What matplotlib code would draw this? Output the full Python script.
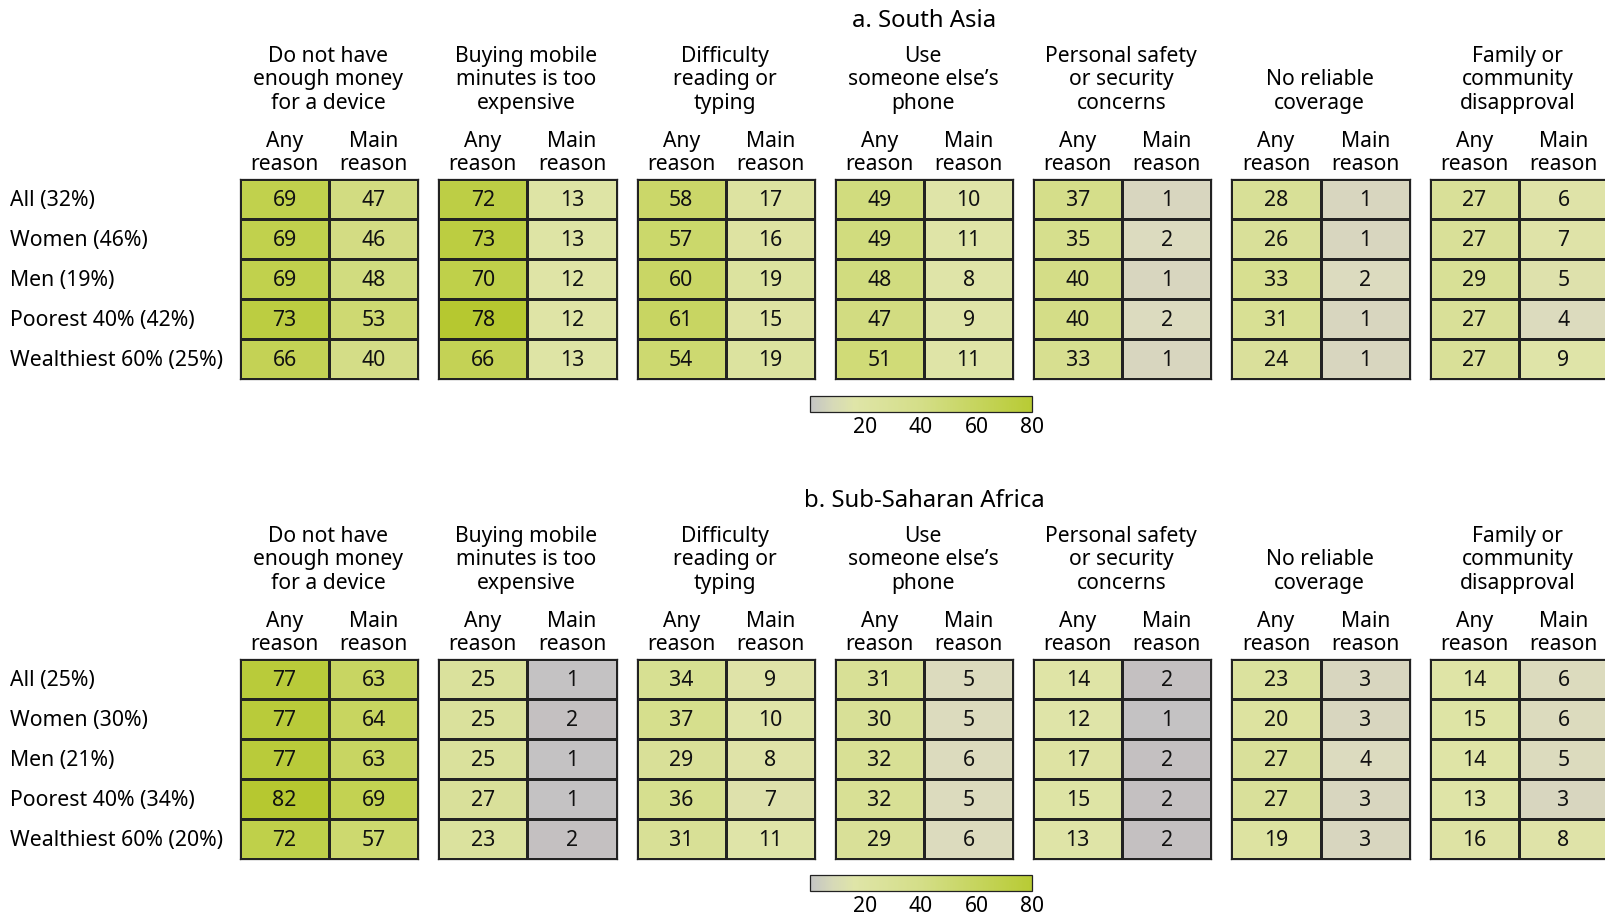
import numpy as np
import matplotlib
matplotlib.use("Agg")
import matplotlib.pyplot as plt
from matplotlib.colors import LinearSegmentedColormap, Normalize
from matplotlib.cm import ScalarMappable

plt.rcParams['font.family'] = ['Noto Sans', 'DejaVu Sans']

groups = ["Do not have\nenough money\nfor a device",
          "Buying mobile\nminutes is too\nexpensive",
          "Difficulty\nreading or\ntyping",
          "Use\nsomeone else\u2019s\nphone",
          "Personal safety\nor security\nconcerns",
          "No reliable\ncoverage",
          "Family or\ncommunity\ndisapproval"]
sub_headers = ["Any\nreason", "Main\nreason"]

rows_sa = ["All (32%)", "Women (46%)", "Men (19%)", "Poorest 40% (42%)", "Wealthiest 60% (25%)"]
rows_ssa = ["All (25%)", "Women (30%)", "Men (21%)", "Poorest 40% (34%)", "Wealthiest 60% (20%)"]

# a. South Asia: (any reason, main reason) per barrier, rows as above
sa_any = [[69, 69, 69, 73, 66], [72, 73, 70, 78, 66], [58, 57, 60, 61, 54],
          [49, 49, 48, 47, 51], [37, 35, 40, 40, 33], [28, 26, 33, 31, 24],
          [27, 27, 29, 27, 27]]
sa_main = [[47, 46, 48, 53, 40], [13, 13, 12, 12, 13], [17, 16, 19, 15, 19],
           [10, 11, 8, 9, 11], [1, 2, 1, 2, 1], [1, 1, 2, 1, 1],
           [6, 7, 5, 4, 9]]

# b. Sub-Saharan Africa
ssa_any = [[77, 77, 77, 82, 72], [25, 25, 25, 27, 23], [34, 37, 29, 36, 31],
           [31, 30, 32, 32, 29], [14, 12, 17, 15, 13], [23, 20, 27, 27, 19],
           [14, 15, 14, 13, 16]]
ssa_main = [[63, 64, 63, 69, 57], [1, 2, 1, 1, 2], [9, 10, 8, 7, 11],
            [5, 5, 6, 5, 6], [2, 1, 2, 2, 2], [3, 3, 4, 3, 3],
            [6, 6, 5, 3, 8]]

cbar_ticks = [20, 40, 60, 80]

cell_cmap = LinearSegmentedColormap.from_list("cells", [
    (0.0, "#c4c4c4"), (0.025, "#c4c0c1"), (0.0375, "#dcdbbf"), (0.081, "#dcdbbe"),
    (0.0875, "#dfe3a8"), (0.15, "#dfe4a8"), (0.25, "#dde3a0"), (0.3375, "#d9e09a"),
    (0.4125, "#d8e094"), (0.5, "#d4de88"), (0.5875, "#d3dc84"), (0.6375, "#d1dc7e"),
    (0.675, "#cfda74"), (0.7625, "#cad768"), (0.825, "#c6d35a"), (0.875, "#c2d250"),
    (0.9375, "#bccd42"), (1.0, "#b6c830")])
bar_cmap = LinearSegmentedColormap.from_list("bar", [
    (0.0, "#c4c4c4"), (0.1, "#d6d9b8"), (0.2, "#dfe5a8"), (0.5, "#d4de88"),
    (1.0, "#b8cb34")])

W, H = 1606, 916
fig = plt.figure(figsize=(W / 100, H / 100), dpi=100)


def fx(px):
    return px / W


def fy(py):
    return 1 - py / H


edge = "#222222"
gx0, pitch, gw = 240, 198.3, 178.3
ph = 199.7

panels = [
    ("a. South Asia", rows_sa, sa_any, sa_main, 179.3, Normalize(-2, 78), 395.7),
    ("b. Sub-Saharan Africa", rows_ssa, ssa_any, ssa_main, 659.3, Normalize(0, 80), 875),
]

for title, rows, any_vals, main_vals, top, norm, cb_top in panels:
    fig.text(fx(gx0 + 3 * pitch + gw / 2), fy(top - 158), title,
             ha='center', va='center', fontsize=17.2)
    for i, lab in enumerate(rows):
        fig.text(fx(10), fy(top + ph / 10 + i * ph / 5 + 1), lab,
                 ha='left', va='center', fontsize=15.3)
    for g, name in enumerate(groups):
        left = gx0 + g * pitch
        ax = fig.add_axes([fx(left), fy(top + ph), gw / W, ph / H])
        data = np.column_stack([any_vals[g], main_vals[g]])
        ax.pcolormesh(data, cmap=cell_cmap, norm=norm, edgecolors=edge, linewidth=0.8)
        ax.set_xlim(0, 2)
        ax.set_ylim(5, 0)
        ax.set_xticks([])
        ax.set_yticks([])
        for s in ax.spines.values():
            s.set_linewidth(0.9)
            s.set_color(edge)
        for i in range(5):
            for j in range(2):
                ax.text(j + 0.5, i + 0.53, str(data[i, j]), ha='center',
                        va='center', fontsize=15.3, color="#111111")
        # barrier header, bottom-aligned lines
        lines = name.split("\n")
        for k, line in enumerate(reversed(lines)):
            fig.text(fx(left + gw / 2 - 1), fy(top - 76 - k * 23.6), line,
                     ha='center', va='center', fontsize=15.2)
        for j, sh in enumerate(sub_headers):
            cx = left + gw / 4 + j * gw / 2
            for k, line in enumerate(sh.split("\n")):
                fig.text(fx(cx), fy(top - 38 + k * 23.6), line,
                         ha='center', va='center', fontsize=15.2)
    cax = fig.add_axes([fx(810), fy(cb_top + 16), 222 / W, 16 / H])
    cb = fig.colorbar(ScalarMappable(norm=Normalize(0, 80), cmap=bar_cmap),
                      cax=cax, orientation='horizontal', ticks=cbar_ticks)
    cb.outline.set_linewidth(0.9)
    cb.outline.set_edgecolor(edge)
    cax.tick_params(length=0, labelsize=15.2, pad=3.5)

fig.savefig("out.png", dpi=100)
